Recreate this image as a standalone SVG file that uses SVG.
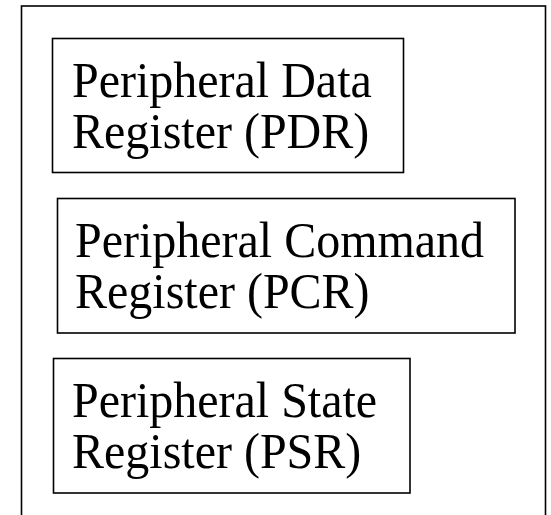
<svg xmlns="http://www.w3.org/2000/svg" width="551" height="515" viewBox="0 0 551 515">
<style>
rect{fill:#fff;stroke:#000;stroke-width:1.6}
text{font-family:"Liberation Serif","Times New Roman",serif;font-size:48px;fill:#000}
</style>
<rect x="0" y="0" width="551" height="515" style="fill:#fff;stroke:none"/>
<g id="outer"><rect x="21.5" y="6" width="524" height="520"/></g>
<g id="pdr">
<rect x="52.5" y="38.5" width="351" height="134"/>
<text transform="translate(72,97) scale(1,1.04)">Peripheral Data</text>
<text transform="translate(72,148) scale(1,1.04)">Register (PDR)</text>
</g>
<g id="pcr">
<rect x="57.5" y="198.5" width="457.5" height="134.5"/>
<text transform="translate(75,257) scale(1,1.04)">Peripheral Command</text>
<text transform="translate(75,308) scale(1,1.04)">Register (PCR)</text>
</g>
<g id="psr">
<rect x="53.5" y="358.5" width="356.5" height="134.5"/>
<text transform="translate(72,417) scale(1,1.04)">Peripheral State</text>
<text transform="translate(72,468) scale(1,1.04)">Register (PSR)</text>
</g>
<g id="connectors"></g>
</svg>
